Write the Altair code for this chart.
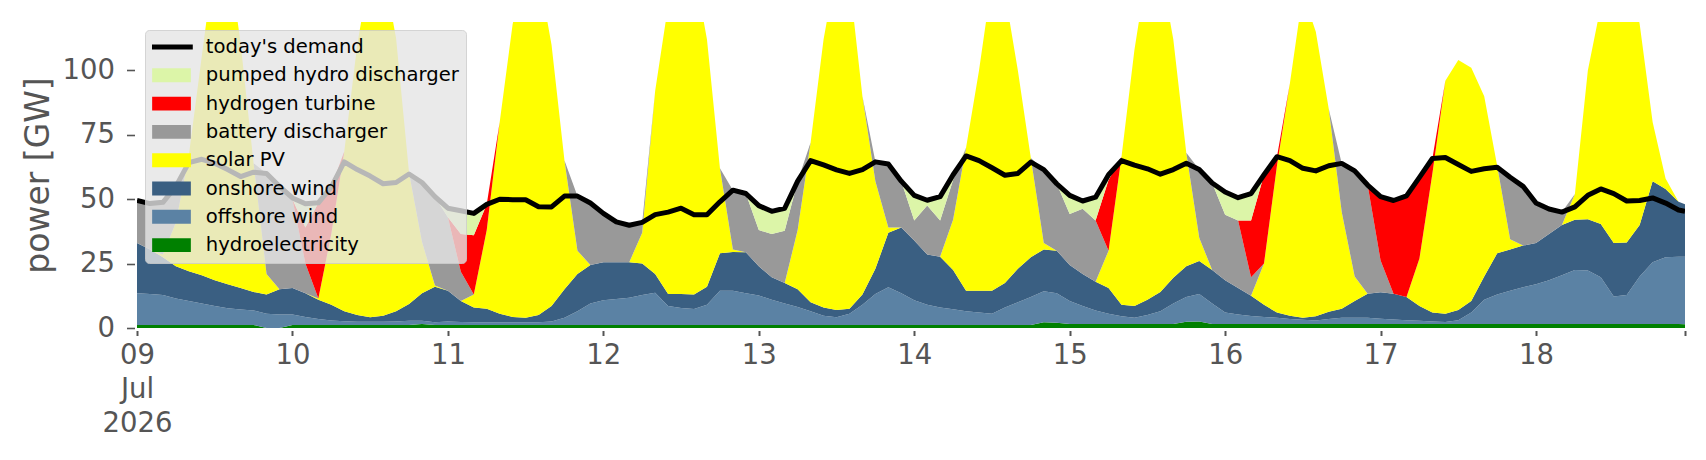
import altair as alt
import pandas as pd

# hours after 2026-07-09 00:00 (2-hourly readings, last point at the right edge)
hours = list(range(0, 240, 2)) + [239]

hydro = [1.2, 1.2, 1.2, 1.2, 1.2, 1.2, 1.2, 1.2, 1.2, 1.2, 0.0, 0.0,
         1.2, 1.2, 1.2, 1.2, 1.2, 1.2, 1.2, 1.2, 1.2, 1.2, 1.6, 1.2,
         1.2, 1.2, 1.2, 1.2, 1.2, 1.2, 1.2, 1.2, 1.2, 1.2, 1.2, 1.2,
         1.2, 1.2, 1.2, 1.2, 1.2, 1.2, 1.2, 1.2, 1.2, 1.2, 1.2, 1.2,
         1.2, 1.2, 1.2, 1.2, 1.2, 1.2, 1.2, 1.2, 1.2, 1.2, 1.2, 1.2,
         1.2, 1.2, 1.2, 1.2, 1.2, 1.2, 1.2, 1.2, 1.2, 1.2, 2.2, 2.0,
         1.6, 1.6, 1.6, 1.6, 1.6, 1.6, 1.6, 1.6, 1.6, 2.4, 2.5, 1.6,
         1.6, 1.6, 1.6, 1.6, 1.6, 1.6, 1.6, 1.6, 1.6, 1.6, 1.6, 1.6,
         1.6, 1.6, 1.6, 1.6, 1.6, 1.6, 1.6, 1.6, 1.6, 1.6, 1.6, 1.6,
         1.6, 1.6, 1.6, 1.6, 1.6, 1.6, 1.6, 1.6, 1.6, 1.6, 1.6, 1.6, 1.5]

offshore = [12.3, 12.0, 11.6, 10.3, 9.3, 8.3, 7.3, 6.5, 6.0, 5.6, 5.5, 5.2,
            4.0, 3.1, 2.3, 1.7, 1.4, 1.2, 1.2, 1.2, 1.3, 1.6, 1.2, 1.0,
            1.3, 1.1, 1.0, 1.0, 1.0, 1.0, 1.0, 1.0, 1.3, 2.8, 5.3, 8.3,
            9.6, 10.1, 10.5, 11.6, 12.5, 7.3, 6.6, 6.2, 7.8, 13.3, 13.3, 12.3,
            11.4, 9.8, 8.3, 7.0, 5.3, 3.6, 3.0, 4.3, 7.8, 12.0, 14.6, 12.3,
            9.6, 7.8, 6.8, 6.1, 5.3, 4.8, 4.3, 6.8, 8.8, 10.8, 12.1, 11.5,
            8.9, 6.9, 5.2, 3.9, 3.0, 2.4, 3.4, 4.9, 7.9, 9.6, 10.7, 7.9,
            4.4, 3.6, 3.1, 2.7, 2.4, 1.9, 1.6, 1.3, 1.9, 2.4, 2.4, 2.4,
            2.0, 1.7, 1.4, 1.2, 0.9, 0.7, 1.4, 4.4, 9.4, 11.4, 12.9, 14.2,
            15.4, 16.9, 18.9, 20.9, 20.7, 18.1, 10.6, 11.2, 18.4, 23.9, 25.9, 26.1, 26.2]

onshore = [19.5, 17.3, 14.7, 12.5, 11.5, 11.0, 10.0, 9.3, 8.3, 7.2, 7.5, 9.8,
           10.3, 9.2, 7.5, 6.1, 3.9, 2.6, 1.8, 2.4, 4.0, 6.5, 10.7, 13.8,
           12.0, 8.2, 5.8, 5.3, 3.3, 2.1, 1.8, 2.8, 6.0, 11.0, 14.5, 15.0,
           14.7, 14.2, 13.8, 12.2, 7.3, 4.7, 5.4, 5.6, 7.0, 14.5, 15.0, 15.9,
           11.4, 8.7, 8.0, 6.8, 3.5, 3.2, 2.8, 2.0, 4.0, 9.8, 21.2, 25.5,
           23.2, 19.5, 19.7, 15.2, 8.0, 8.5, 9.0, 9.5, 13.0, 15.5, 16.2, 16.5,
           14.0, 12.5, 11.2, 10.0, 4.4, 4.5, 6.0, 7.5, 10.0, 12.0, 12.8, 13.0,
           12.5, 10.3, 7.8, 4.7, 2.0, 1.3, 0.8, 1.7, 2.8, 3.5, 6.5, 9.3,
           10.3, 10.0, 9.0, 5.7, 3.5, 3.2, 4.0, 4.5, 9.0, 16.0, 16.0, 16.2,
           16.0, 18.0, 19.5, 19.5, 19.9, 20.7, 20.8, 20.4, 20.0, 31.5, 26.5, 21.3, 20.3]

solar = [0, 0, 1, 17, 45, 85, 125, 130, 95, 50, 8, 0,
         0, 0, 0.5, 27.5, 62, 105, 135, 135, 106, 51, 20, 0.5,
         0, 0, 5, 30.5, 74.5, 113.7, 136, 133, 101.5, 50, 9, 0,
         0, 0, 0, 12, 71, 112, 132, 127, 96, 33, 1, 0,
         0, 0, 0, 23, 62, 104, 133, 127.5, 77, 34, 2, 0,
         0, 0, 0, 19.5, 55.5, 85.5, 120.5, 112.5, 77, 38.5, 2.5, 0,
         0, 0, 0, 14.5, 57.5, 99.5, 129, 126, 92.5, 44, 9, 0,
         0, 0, 0, 16, 57, 90.2, 126, 110.4, 78.7, 37.5, 9.5, 0,
         0, 0, 0, 18.5, 54, 90.5, 97, 90.5, 70, 34, 4, 0,
         0, 0, 0, 10, 57.8, 84.6, 112, 112, 78, 23, 4, 0, 0]

battery = [16.5, 17.8, 20.3, 14, 0, 0, 0, 0, 0, 0, 39, 40,
           34.5, 11.5, 0, 0, 0, 0, 0, 0, 0, 0, 23, 34.5,
           28.5, 11.3, 0, 0, 0, 0, 0, 0, 0, 0, 21.2, 24,
           19, 15.7, 14.4, 4, 0, 0, 0, 0, 0, 0, 23, 22.8,
           14, 16.8, 20.3, 19, 0, 0, 0, 0, 0, 7.5, 24.7, 18,
           7.7, 19.1, 14, 15.5, 0, 0, 0, 0, 0, 0, 28.5, 26,
           19.8, 25.3, 23.7, 0, 0, 0, 0, 0, 0, 0, 26.5, 33.8,
           25.5, 26.2, 7.2, 0, 0, 0, 0, 0, 0, 18.9, 41, 42.2,
           12.3, 0, 0, 0, 0, 0, 0, 0, 0, 0, 24, 23,
           15.5, 9.7, 5, 0, 0, 0, 0, 0, 0, 0, 0, 0, 0]

hydrogen = [0, 0, 0, 0, 0, 0, 0, 0, 0, 0, 0, 0,
            0, 14, 37.1, 18.3, 0, 0, 0, 0, 0, 0, 0, 0,
            0, 14.7, 23, 10, 0, 0, 0, 0, 0, 0, 0, 0,
            0, 0, 0, 0, 0, 0, 0, 0, 0, 0, 0, 0,
            0, 0, 0, 0, 0, 0, 0, 0, 0, 0, 0, 0,
            0, 0, 0, 0, 0, 0, 0, 0, 0, 0, 0, 0,
            0, 0, 0, 27.5, 0, 0, 0, 0, 0, 0, 0, 0,
            0, 0, 22, 34.5, 3.5, 0, 0, 0, 0, 0, 0, 0,
            24.8, 36.2, 39.3, 31.5, 5.8, 0, 0, 0, 0, 0, 0, 0,
            0, 0, 0, 0, 0, 0, 0, 0, 0, 0, 0, 0, 0]

pumped = [0, 0, 0, 0, 0, 0, 0, 0, 0, 0, 0, 0,
          0.5, 9.2, 0, 0, 0, 0, 0, 0, 0, 0, 0, 0,
          3.5, 9, 8.5, 0, 0, 0, 0, 0, 0, 0, 0, 0,
          0, 0, 0, 0, 0, 0, 0, 0, 0, 0, 0, 0,
          9.5, 8.8, 8.7, 0, 0, 0, 0, 0, 0, 0, 0, 0,
          9.8, 2, 9.3, 2, 0, 0, 0, 0, 0, 0, 0, 0,
          7.2, 3, 9.1, 2, 0, 0, 0, 0, 0, 0, 0, 0,
          8.8, 8.9, 10.5, 0, 0, 0, 0, 0, 0, 0, 0, 0,
          0, 0, 0, 0, 0, 0, 0, 0, 0, 0, 0, 0,
          0, 0, 0, 0, 0, 0, 0, 0, 0, 0, 0, 0, 0]

demand = [49.5, 48.3, 48.8, 55, 64.2, 65.5, 64, 61.5, 58.8, 60.5, 60, 55,
          50.5, 48.2, 48.6, 54.8, 64.5, 61.5, 59, 56, 56.5, 59.8, 56.5, 51,
          46.5, 45.5, 44.5, 48, 50, 49.8, 49.8, 47.1, 47, 51.2, 51.2, 48.5,
          44.5, 41.2, 39.9, 41, 44, 45, 46.5, 44, 44, 49, 53.5, 52.2,
          47.5, 45.3, 46.5, 57, 65, 63.3, 61.4, 60, 61.5, 64.5, 63.7, 57,
          51.5, 49.6, 51, 59.5, 66.8, 65, 62.2, 59.3, 60, 64.4, 61.5, 56,
          51.5, 49.3, 50.8, 59.5, 65, 63.2, 61.8, 59.7, 61.5, 64, 61.5, 56.3,
          52.8, 50.6, 52.2, 59.5, 66.5, 65, 62, 61, 63, 63.9, 61, 55.5,
          51, 49.5, 51.3, 58.5, 65.8, 66.2, 63.5, 60.8, 61.8, 62.4, 58.5, 55,
          48.5, 46.2, 45, 47, 51.5, 54, 52.2, 49.3, 49.5, 50.5, 48.5, 45.8, 45.3]

stack_names = ["hydroelectricity", "offshore wind", "onshore wind", "solar PV",
               "battery discharger", "hydrogen turbine", "pumped hydro discharger"]
stack_values = [hydro, offshore, onshore, solar, battery, hydrogen, pumped]

legend_names = ["today's demand", "pumped hydro discharger", "hydrogen turbine",
                "battery discharger", "solar PV", "onshore wind", "offshore wind",
                "hydroelectricity"]
legend_colors = ["#000000", "#dcf5a8", "#ff0000", "#999999", "#ffff00",
                 "#3a5f82", "#5b82a4", "#008000"]

start = pd.Timestamp("2026-07-09 00:00")
times = [start + pd.Timedelta(hours=h) for h in hours]

rows = []
for k, (name, vals) in enumerate(zip(stack_names, stack_values)):
    for t, v in zip(times, vals):
        rows.append({"time": t, "series": name, "value": v, "order": k})
area_df = pd.DataFrame(rows)
demand_df = pd.DataFrame({"time": times, "value": demand})
legend_df = pd.DataFrame({"series": legend_names,
                          "time": [times[0]] * len(legend_names),
                          "value": [0] * len(legend_names)})

rect_path = "M-1,-0.36L1,-0.36L1,0.36L-1,0.36Z"
line_path = "M-1.1,-0.13L1.1,-0.13L1.1,0.13L-1.1,0.13Z"

color_scale = alt.Scale(domain=legend_names, range=legend_colors)
shape_scale = alt.Scale(domain=legend_names, range=[line_path] + [rect_path] * 7)
y_scale = alt.Scale(domain=[0, 118.8], nice=False)
x_scale = alt.Scale(domain=[alt.DateTime(year=2026, month=7, date=9, hours=0),
                            alt.DateTime(year=2026, month=7, date=18, hours=23)])

tick_values = [alt.DateTime(year=2026, month=7, date=d) for d in range(9, 19)] + \
              [alt.DateTime(year=2026, month=7, date=18, hours=23)]

x_axis = alt.Axis(
    values=tick_values,
    labelExpr="hours(datum.value) != 0 ? '' : (date(datum.value) == 9 ? ['09', 'Jul', '2026'] : timeFormat(datum.value, '%d'))",
    title=None, labelFontSize=27.5, labelColor="#555555", labelLineHeight=34,
    labelPadding=6, tickSize=5, tickColor="#555555", tickWidth=2, offset=2.5,
    labelFlush=False, labelOverlap=False, domain=False, grid=False,
)
y_axis = alt.Axis(
    values=[0, 25, 50, 75, 100], title="power [GW]", titleFontSize=33,
    titleFontWeight="normal", titleColor="#555555", titleX=-96.5, titleY=153,
    titleAlign="center", titleBaseline="middle", titleAngle=270,
    labelFontSize=27.5, labelColor="#555555", labelPadding=12, tickSize=8,
    tickColor="#555555", tickWidth=1.6, offset=2.5, domain=False, grid=False,
)

legend_spec = alt.Legend(
    title=None, orient="top-left", offset=8, padding=7,
    fillColor="rgba(229,229,229,0.8)", strokeColor="rgba(204,204,204,0.8)",
    cornerRadius=4, labelFont="DejaVu Sans", labelFontSize=19.6,
    labelColor="black", labelLimit=400, labelOffset=14.8, symbolSize=1498,
    symbolOpacity=1, symbolStrokeWidth=0, clipHeight=20, rowPadding=8.3,
    zindex=1,
)

x_enc = alt.X("time:T", scale=x_scale, axis=x_axis, title=None)
y_enc = alt.Y("value:Q", scale=y_scale, axis=y_axis, title="power [GW]")

# invisible layer that carries the legend (colour + symbol shape per entry)
legend_layer = alt.Chart(legend_df).mark_point(filled=True, opacity=0, size=0).encode(
    x=x_enc,
    y=y_enc,
    color=alt.Color("series:N", scale=color_scale, legend=legend_spec),
    shape=alt.Shape("series:N", scale=shape_scale, legend=legend_spec),
)

area = alt.Chart(area_df).mark_area(clip=True, interpolate="linear", opacity=1).encode(
    x=x_enc,
    y=alt.Y("value:Q", stack="zero", scale=y_scale, axis=y_axis, title="power [GW]"),
    color=alt.Color("series:N", scale=color_scale, legend=legend_spec),
    order=alt.Order("order:Q", sort="ascending"),
)

line = alt.Chart(demand_df).mark_line(
    color="black", strokeWidth=5, strokeJoin="round", clip=True
).encode(x=x_enc, y=y_enc)

chart = alt.layer(legend_layer, area, line).properties(
    width=1548, height=306,
    padding={"left": 14, "top": 14, "right": 5, "bottom": 5},
    background="white",
).configure_view(stroke=None).configure_axis(
    labelFont="DejaVu Sans", titleFont="DejaVu Sans"
)

chart.save("out.html", embed_options={"renderer": "svg", "actions": False})
